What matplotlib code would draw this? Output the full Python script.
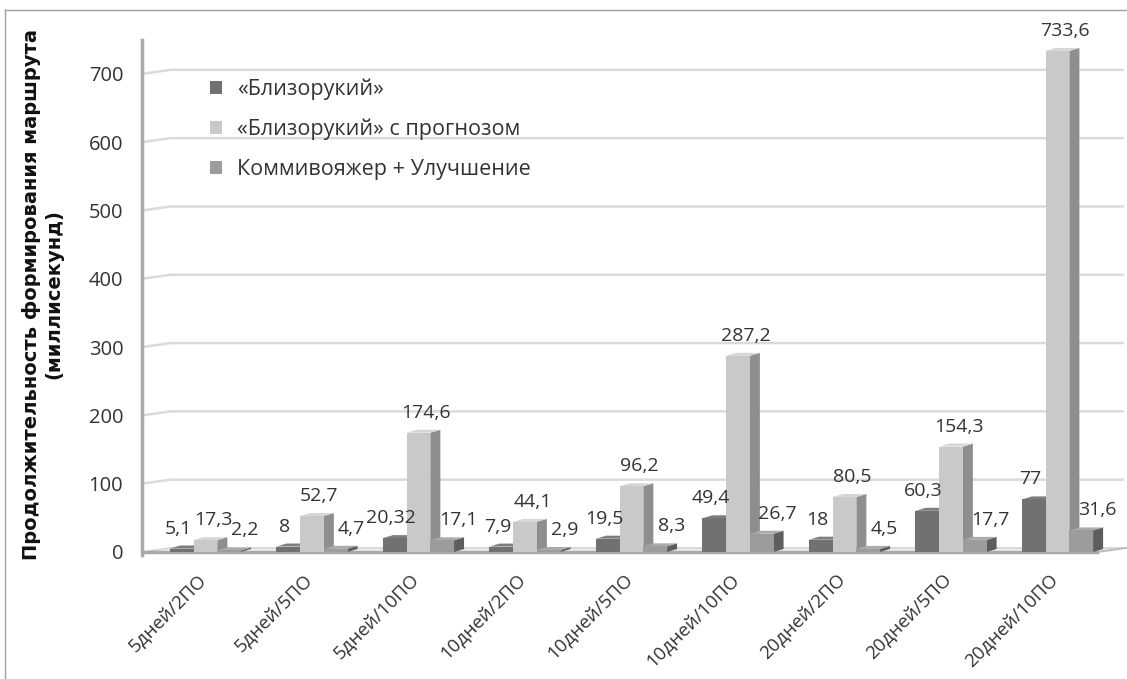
import matplotlib
matplotlib.use("Agg")
import matplotlib.pyplot as plt
from matplotlib.patches import Polygon, Patch
from matplotlib.lines import Line2D
import numpy as np

plt.rcParams['font.family'] = ['Open Sans', 'DejaVu Sans']

categories = ["5дней/2ПО", "5дней/5ПО", "5дней/10ПО", "10дней/2ПО", "10дней/5ПО",
              "10дней/10ПО", "20дней/2ПО", "20дней/5ПО", "20дней/10ПО"]
series_names = ["«Близорукий»", "«Близорукий» с прогнозом", "Коммивояжер + Улучшение"]
blizorukiy = [5.1, 8, 20.32, 7.9, 19.5, 49.4, 18, 60.3, 77]
prognoz = [17.3, 52.7, 174.6, 44.1, 96.2, 287.2, 80.5, 154.3, 733.6]
kommi = [2.2, 4.7, 17.1, 2.9, 8.3, 26.7, 4.5, 17.7, 31.6]
yticks = [0, 100, 200, 300, 400, 500, 600, 700]

front_cols = ['#717173', '#c9c9cb', '#9c9c9e']
side_cols = ['#5c5c5e', '#8e8e90', '#5e5e60']
top_cols = ['#7e7e80', '#d6d6d8', '#ababad']
lab_shift = [-0.035, 0.07, 0.15]

W = 1127
H = 679
fig = plt.figure(figsize=(W / 100, H / 100), dpi=100)
ax = fig.add_axes([142 / W, (H - 555) / H, (1124 - 142) / W, 515 / H])

xmin, xmax = -0.596, 8.624
ax.set_xlim(xmin, xmax)
ax.set_ylim(-4.4, 749.6)

w = 0.2225      # bar width
d = 0.094       # depth of side face
dy = 4.4        # rise of top face
bx, by = 0.27, 5.9   # back wall offset

x = np.arange(len(categories))

# back wall gridlines
for v in yticks[1:]:
    ax.plot([xmin, xmin + bx, xmax], [v, v + by, v + by], color='#dadada', lw=1.8,
            zorder=1, clip_on=False, solid_capstyle='butt')

# floor
fend = 8.37
floor = Polygon([(xmin, 0), (fend, 0), (fend + bx, by), (xmin + bx, by)],
                closed=True, facecolor='#ededed', edgecolor='none', zorder=1)
ax.add_patch(floor)
ax.plot([xmin + bx, fend + bx], [by, by], color='#d4d4d4', lw=1.2, zorder=1)
ax.plot([xmin, xmin + bx], [0, by], color='#d4d4d4', lw=1.2, zorder=1)
ax.plot([fend, fend + bx, xmax + 0.05], [0, by, by], color='#bdbdbd', lw=1.5, zorder=1, clip_on=False)
ax.plot([xmin, fend], [0, 0], color='#a9a9a9', lw=2.5, zorder=2)

series = [blizorukiy, prognoz, kommi]
for k, vals in enumerate(series):
    left = x + (k - 1.5) * w
    z = 3 + k
    ax.bar(left, vals, width=w, align='edge', color=front_cols[k], zorder=z + 0.2)
    for xl, v in zip(left, vals):
        side = Polygon([(xl + w, 0), (xl + w + d, dy), (xl + w + d, v + dy), (xl + w, v)],
                       closed=True, facecolor=side_cols[k], edgecolor='none', zorder=z)
        top = Polygon([(xl, v), (xl + w, v), (xl + w + d, v + dy), (xl + d, v + dy)],
                      closed=True, facecolor=top_cols[k], edgecolor='none', zorder=z + 0.1)
        ax.add_patch(side)
        ax.add_patch(top)
        lab = f"{v:g}".replace('.', ',')
        ax.annotate(lab, (xl + w / 2 + lab_shift[k], v), xytext=(0, 14.4),
                    textcoords='offset points', ha='center', va='center',
                    fontsize=14, color='#333333', zorder=10)

for s in ['top', 'right', 'bottom']:
    ax.spines[s].set_visible(False)
ax.spines['left'].set_color('#a9a9a9')
ax.spines['left'].set_linewidth(2.5)

ax.set_yticks(yticks)
ax.set_yticklabels([str(t) for t in yticks], fontsize=14.5, color='#333333')
ax.tick_params(axis='y', length=0, pad=13.5)
ax.set_xticks(x - 0.08)
ax.set_xticklabels(categories, rotation=45, ha='right', va='top',
                   rotation_mode='anchor', fontsize=13.5, color='#333333')
ax.tick_params(axis='x', length=0, pad=11)

handles = [Patch(facecolor=c, edgecolor='none') for c in front_cols]
ax.legend(handles, series_names, loc='upper left', bbox_to_anchor=(210 / W, 1 - 78.5 / H),
          bbox_transform=fig.transFigure, frameon=False, fontsize=15.5,
          handlelength=0.56, handleheight=0.56, handletextpad=0.7,
          labelspacing=0.88, borderpad=0, borderaxespad=0, labelcolor='#333333')

fig.text(42.5 / W, 1 - 294 / H,
         "Продолжительность формирования маршрута\n(миллисекунд)",
         rotation=90, ha='center', va='center', fontsize=14, fontweight='heavy',
         family='DejaVu Sans', multialignment='center', linespacing=1.2, color='#111111')

# outer frame
fig.add_artist(Line2D([5 / W, 1.0], [1 - 10 / H, 1 - 10 / H], transform=fig.transFigure,
                      color='#a0a0a0', lw=1))
fig.add_artist(Line2D([5 / W, 5 / W], [0, 1 - 10 / H], transform=fig.transFigure,
                      color='#a0a0a0', lw=1))

fig.savefig("out.png", dpi=100)
